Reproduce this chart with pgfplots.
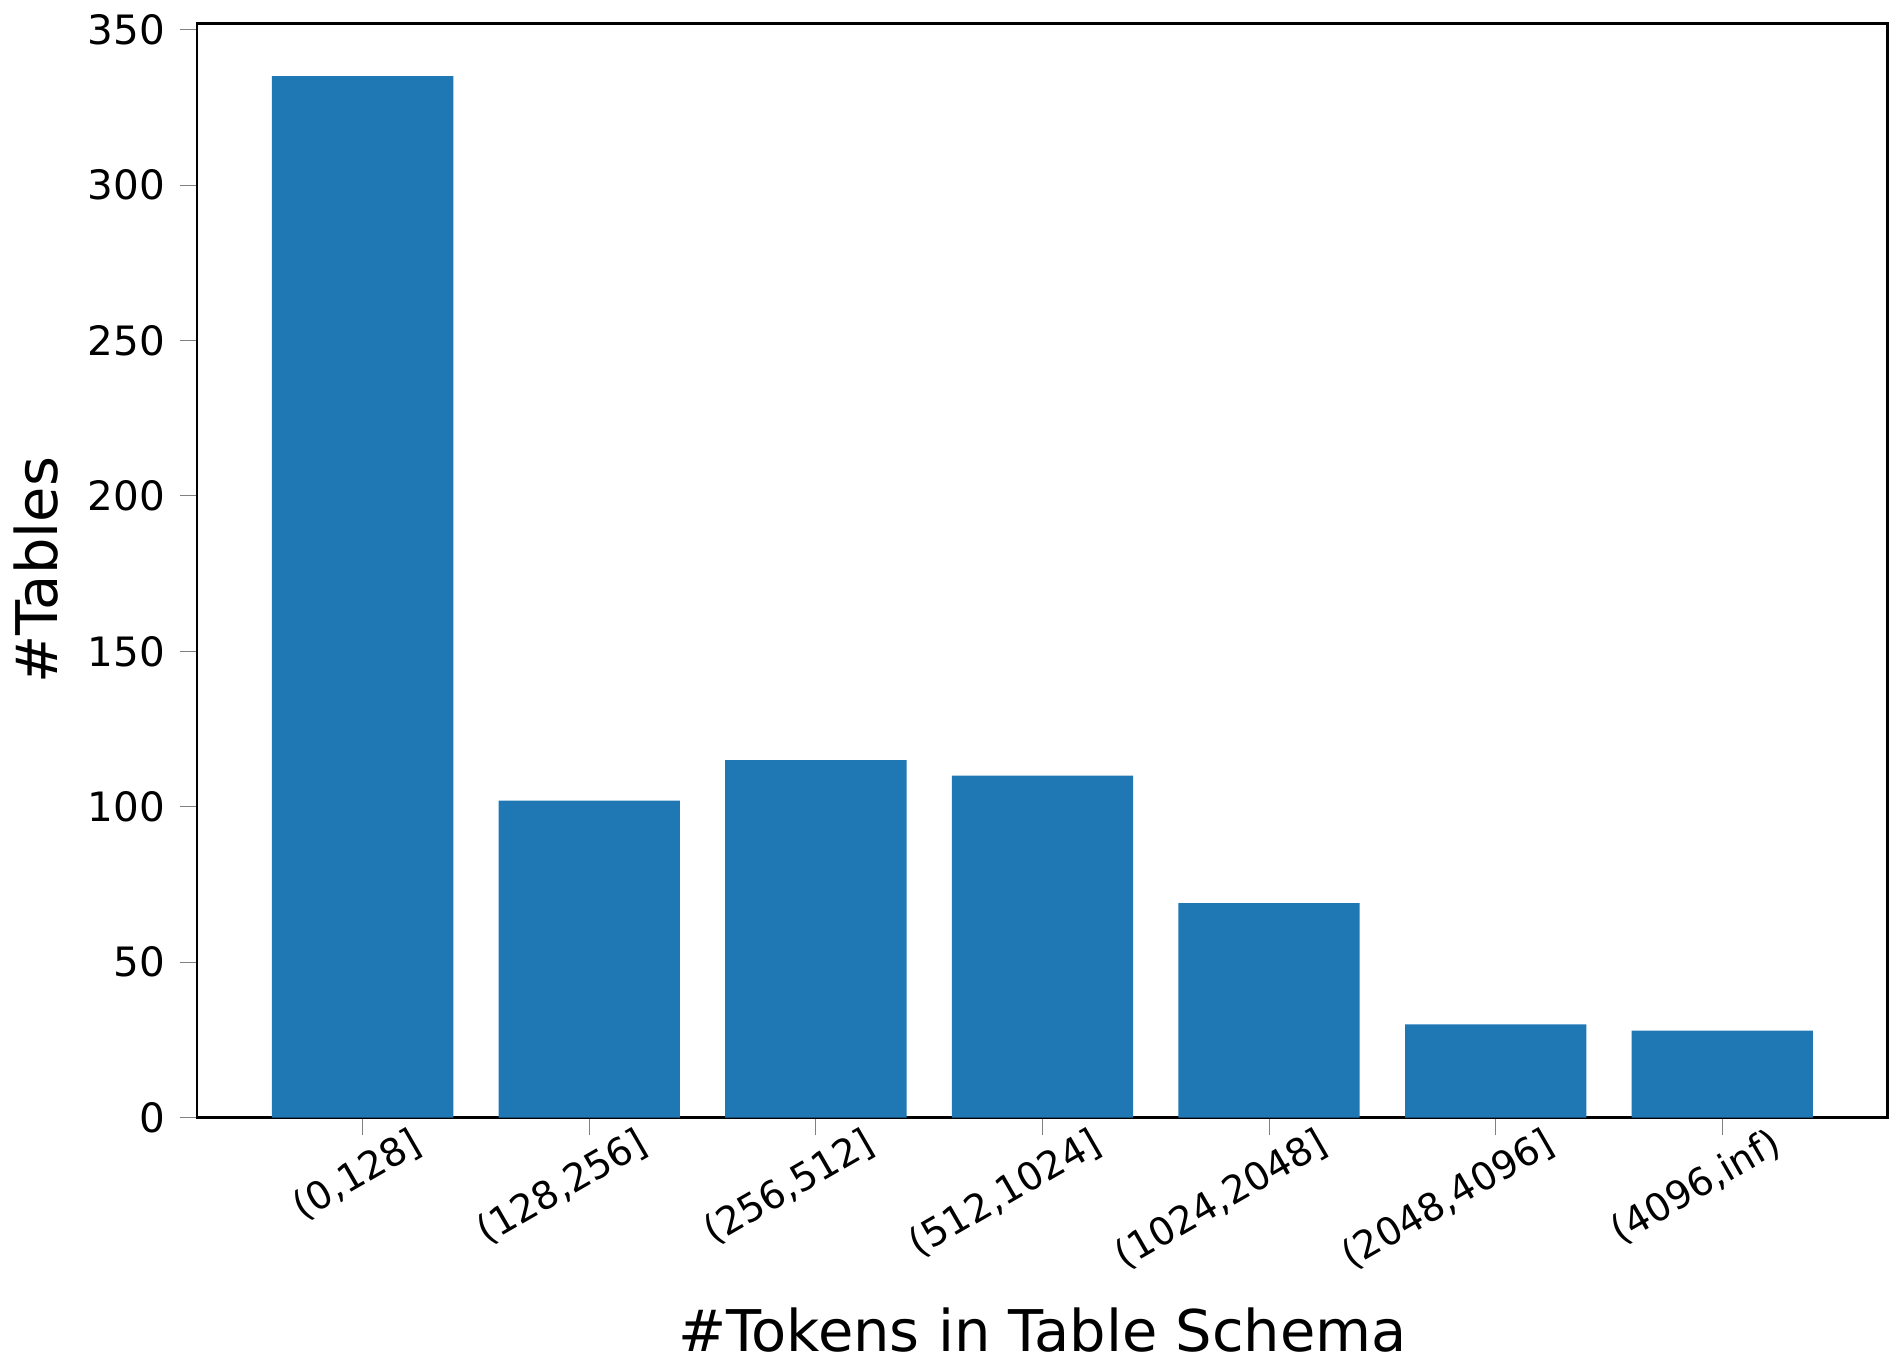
\documentclass[border=0pt]{standalone}
\usepackage{pgfplots}
\pgfplotsset{compat=1.18}
\usepackage{fontspec}
\setmainfont{DejaVu Sans}
\definecolor{mplblue}{HTML}{1F77B4}
\begin{document}
\begin{tikzpicture}
\begin{axis}[
  scale only axis, width=397pt, height=257pt,
  xmin=-0.73, xmax=6.73, ymin=0, ymax=352,
  ybar, bar width=0.8, bar shift=0pt,
  xtick=data,
  xticklabels={{(0,128]},{(128,256]},{(256,512]},{(512,1024]},{(1024,2048]},{(2048,4096]},{(4096,inf)}},
  xticklabel style={rotate=30, anchor=north east, xshift=14pt, font=\fontsize{9}{10}\selectfont},
  yticklabel style={font=\fontsize{9.5}{10}\selectfont},
  ytick={0,50,...,350},
  /pgf/number format/assume math mode=true,
  tick align=outside, tick pos=left,
  major tick length=4pt,
  xlabel={\#Tokens in Table Schema}, ylabel={\#Tables},
  label style={font=\fontsize{13.5}{15}\selectfont},
  axis line style={line width=0.6pt},
]
\addplot[fill=mplblue, draw=none] coordinates {(0,335) (1,102) (2,115) (3,110) (4,69) (5,30) (6,28)};
\end{axis}
\end{tikzpicture}
\end{document}
